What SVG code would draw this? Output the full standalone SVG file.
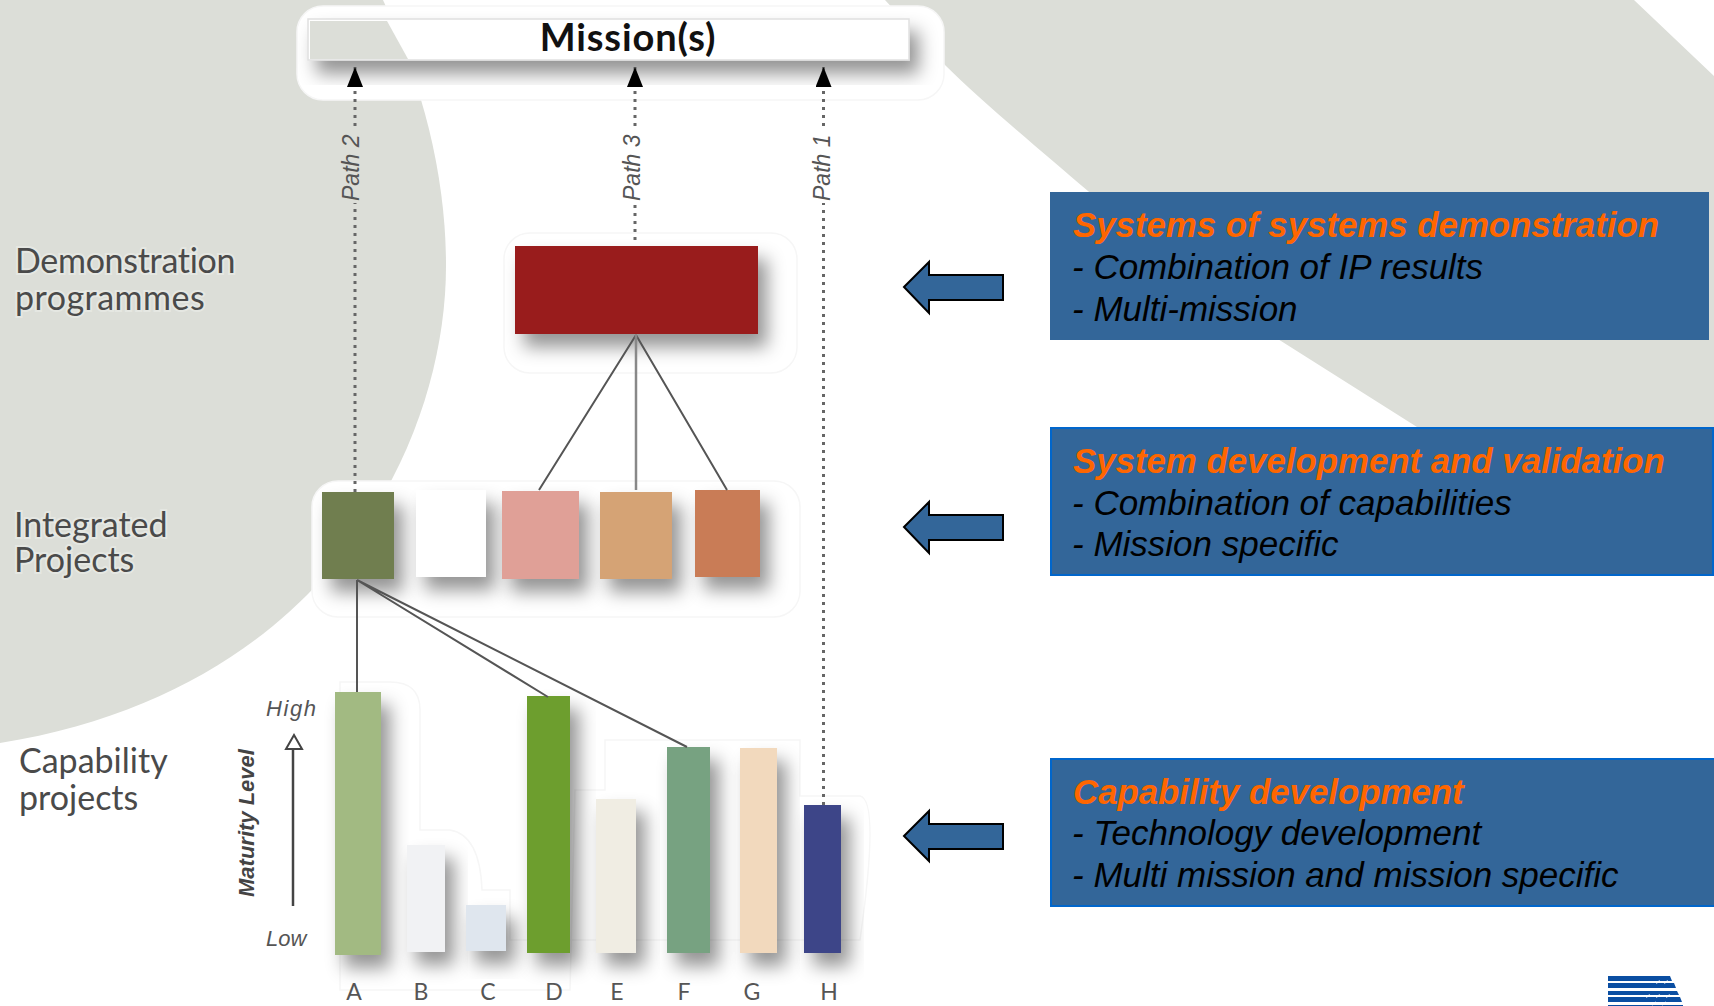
<svg xmlns="http://www.w3.org/2000/svg" width="1714" height="1006" viewBox="0 0 1714 1006">
<style>
.lbl{font-family:"Lato","Open Sans",sans-serif;font-size:34px;fill:#4a4a4a;paint-order:stroke;stroke:#fff;stroke-opacity:.3;stroke-width:4px}
.path{font-family:"Liberation Sans",Arial,sans-serif;font-style:italic;font-size:23px;fill:#555}
.let{font-family:"Lato","Open Sans",sans-serif;font-size:23px;fill:#555;text-anchor:middle}
.hl{font-family:"Liberation Sans",Arial,sans-serif;font-style:italic;font-size:22px;fill:#555}
.ttl{font-family:"Liberation Sans",Arial,sans-serif;font-style:italic;font-weight:bold;font-size:34.800px;fill:#ff6600}
.sub{font-family:"Liberation Sans",Arial,sans-serif;font-style:italic;font-size:35px;fill:#000}
.halo{fill:#fff;stroke:#f6f6f6;stroke-width:1.5}
.box{fill:#336699}
.boxb{fill:#336699;stroke:#0066cc;stroke-width:2}
.arr{fill:#336699;stroke:#000;stroke-width:2}
.dot{stroke:#666;stroke-width:3;stroke-dasharray:3 5;fill:none}
.con{stroke:#555;stroke-width:2;fill:none}
.sh{filter:url(#ds)}
</style>
<defs>
<filter id="ds" x="-50%" y="-50%" width="210%" height="210%"><feDropShadow dx="9" dy="13" stdDeviation="9" flood-color="#000" flood-opacity=".42"/></filter>
<marker id="tri" viewBox="0 0 20 16" refX="20" refY="8" markerWidth="20" markerHeight="16" orient="auto" markerUnits="userSpaceOnUse"><path d="M0 0L20 8L0 16Z" fill="#000"/></marker>
</defs>
<rect width="1714" height="1006" fill="#fff"/>
<g id="background" fill="#dcded8">
<path d="M0 0H383C425 90 446 180 446 266C446 440 330 690 0 743Z"/>
<path d="M885 0H1634L1714 76V440H1437L1417 427L1281 341C1200 290 1130 230 1088 191C1040 150 980 100 945 65Z"/>
</g>
<g id="mission">
<rect class="halo" x="297" y="6" width="647" height="94" rx="26"/>
<rect class="sh" x="308" y="19" width="601" height="41" fill="#fff" stroke="#e0e0e0" stroke-width="1.5"/>
<path d="M310 21H387L408 59H310Z" fill="#dcded8"/>
<text x="628" y="51" text-anchor="middle" font-family="Lato,'Open Sans',sans-serif" font-weight="700" font-size="38" letter-spacing=".9" fill="#111">Mission(s)</text>
</g>
<g id="halos">
<rect class="halo" x="504" y="233" width="293" height="140" rx="26"/>
<rect class="halo" x="312" y="481" width="488" height="136" rx="26"/>
<path class="halo" d="M340 682H390Q420 682 420 710V830H450Q480 835 482 890H510V940H860Q880 800 860 796H800V740H605V790H575L570 990H340Z"/>
</g>
<g id="demo"><rect class="sh" x="515" y="246" width="243" height="88" fill="#991b1e"/></g>
<g id="ip-1"><rect class="sh" x="322" y="492" width="72" height="87" fill="#6f7e50"/></g>
<g id="ip-2"><rect class="sh" x="416" y="490" width="70" height="87" fill="#fff"/></g>
<g id="ip-3"><rect class="sh" x="502" y="491" width="77" height="88" fill="#e0a097"/></g>
<g id="ip-4"><rect class="sh" x="600" y="492" width="72" height="87" fill="#d5a374"/></g>
<g id="ip-5"><rect class="sh" x="695" y="490" width="65" height="87" fill="#c97c57"/></g>
<g id="cap-a"><rect class="sh" x="335" y="692" width="46" height="263" fill="#a2ba82"/><text class="let" x="354" y="1000">A</text></g>
<g id="cap-b"><rect class="sh" x="407" y="845" width="38" height="107" fill="#f1f2f4"/><text class="let" x="421" y="1000">B</text></g>
<g id="cap-c"><rect class="sh" x="466" y="905" width="40" height="46" fill="#dfe6ee"/><text class="let" x="488" y="1000">C</text></g>
<g id="cap-d"><rect class="sh" x="527" y="696" width="43" height="257" fill="#6d9e2e"/><text class="let" x="554" y="1000">D</text></g>
<g id="cap-e"><rect class="sh" x="596" y="799" width="40" height="154" fill="#f0ede3"/><text class="let" x="617" y="1000">E</text></g>
<g id="cap-f"><rect class="sh" x="667" y="747" width="43" height="206" fill="#77a281"/><text class="let" x="684" y="1000">F</text></g>
<g id="cap-g"><rect class="sh" x="740" y="748" width="37" height="205" fill="#f2d9bd"/><text class="let" x="752" y="1000">G</text></g>
<g id="cap-h"><rect class="sh" x="804" y="805" width="37" height="148" fill="#3d4588"/><text class="let" x="829" y="1000">H</text></g>
<g id="connectors">
<path class="dot" d="M355 492V203"/><path class="dot" d="M355 126V67" marker-end="url(#tri)"/>
<path class="dot" d="M635 240V203"/><path class="dot" d="M635 126V67" marker-end="url(#tri)"/>
<path class="dot" d="M823.500 805V203"/><path class="dot" d="M823.500 126V67" marker-end="url(#tri)"/>
<path class="con" d="M636 335L539 490M636 335L727 490"/>
<path d="M636 335V490" stroke="#888" stroke-width="2.500" fill="none"/>
<path class="con" d="M357 580V692M357 580L548 697M357 580L687 747"/>
<path d="M293 906V749" stroke="#444" stroke-width="2.500" fill="none"/>
<path d="M286 749H302L294 735Z" fill="#fff" stroke="#444" stroke-width="2"/>
</g>
<g id="path-labels">
<text class="path" transform="translate(359 201) rotate(-90)">Path 2</text>
<text class="path" transform="translate(640 201) rotate(-90)">Path 3</text>
<text class="path" transform="translate(830 201) rotate(-90)">Path 1</text>
</g>
<g id="row-labels">
<text class="lbl" x="15" y="273" letter-spacing="-.3">Demonstration</text>
<text class="lbl" x="15" y="310" letter-spacing=".5">programmes</text>
<text class="lbl" x="14" y="537">Integrated</text>
<text class="lbl" x="14" y="572">Projects</text>
<text class="lbl" x="19" y="773">Capability</text>
<text class="lbl" x="19" y="810">projects</text>
</g>
<g id="axis">
<text class="hl" x="266" y="716" textLength="50">High</text>
<text class="hl" x="266" y="946">Low</text>
<text transform="translate(254 897) rotate(-90)" font-family="'Liberation Sans',Arial,sans-serif" font-style="italic" font-weight="bold" font-size="22" fill="#444">Maturity Level</text>
</g>
<g id="arrow-1"><path class="arr" d="M904 287L929 262V275H1003V300H929V313Z"/></g>
<g id="arrow-2"><path class="arr" d="M904 527L929 502V515H1003V540H929V553Z"/></g>
<g id="arrow-3"><path class="arr" d="M904 836L929 811V824H1003V849H929V861Z"/></g>
<g id="box-1"><rect class="box" x="1050" y="192" width="659" height="148"/>
<text class="ttl" x="1073" y="237">Systems of systems demonstration</text>
<text class="sub" x="1072" y="279">- Combination of IP results</text>
<text class="sub" x="1072" y="321">- Multi-mission</text></g>
<g id="box-2"><rect class="boxb" x="1051" y="428" width="662" height="147"/>
<text class="ttl" x="1073" y="473">System development and validation</text>
<text class="sub" x="1072" y="515">- Combination of capabilities</text>
<text class="sub" x="1072" y="556">- Mission specific</text></g>
<g id="box-3"><rect class="boxb" x="1051" y="759" width="665" height="147"/>
<text class="ttl" x="1073" y="804">Capability development</text>
<text class="sub" x="1072" y="845">- Technology development</text>
<text class="sub" x="1072" y="887">- Multi mission and mission specific</text></g>
<g id="logo">
<path fill="#0a4ea2" d="M1608 976H1670L1672 981H1608ZM1608 983H1674L1676 988H1608ZM1608 991H1677L1679 995H1608ZM1608 997H1680L1682 1002H1608ZM1608 1005H1683V1006H1608Z"/>
<path fill="none" stroke="#fff" stroke-width="1.500" d="M1660 981L1656 983M1668 981L1664 983M1650 995L1646 997M1660 995L1656 997M1670 995L1666 997M1656 1002L1652 1005M1666 1002L1662 1005"/>
</g>
</svg>
